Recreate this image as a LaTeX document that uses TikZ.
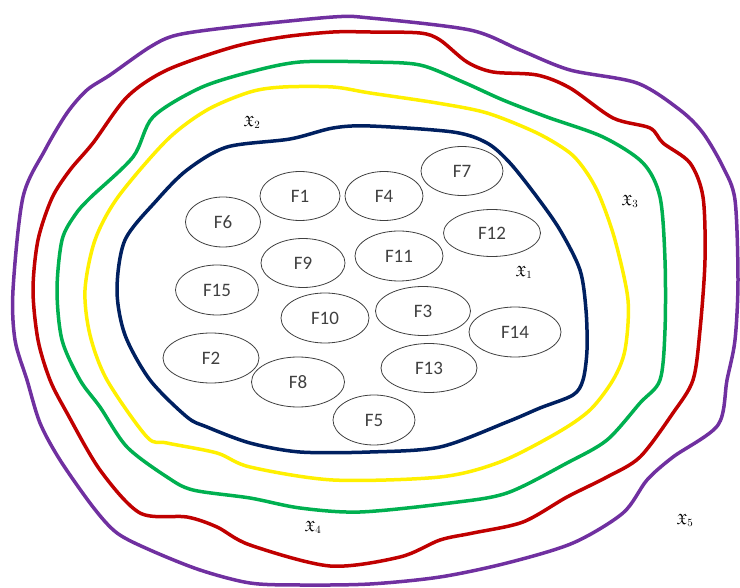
\documentclass[tikz,border=0pt]{standalone}
\usepackage{amssymb}
\usepackage{fontspec}
\setmainfont{Carlito}
\usetikzlibrary{shapes.geometric}
\definecolor{cpurple}{RGB}{112,48,160}
\definecolor{cred}{RGB}{192,0,0}
\definecolor{cgreen}{RGB}{0,176,80}
\definecolor{cyellow}{RGB}{255,240,0}
\definecolor{cnavy}{RGB}{0,32,96}
\newcommand{\glyphlab}[1]{\fontsize{15}{15}\selectfont$\mathfrak{X}_{#1}$}
\begin{document}
\begin{tikzpicture}[x=1pt,y=-1pt,
  loop/.style={line width=3.5pt, line join=round},
  fel/.style={ellipse, draw=black!75, line width=0.8pt, inner sep=0pt, text=black!75, font=\fontsize{19}{21}\selectfont},
  glab/.style={inner sep=0pt}]
\useasboundingbox (0,0) rectangle (740,588);
% purple
\draw[loop, cpurple] plot[smooth cycle, tension=0.5] coordinates {(13,290) (23,197) (45,150) (67,113) (87,90) (110,75) (150,47) (177,35) (233,27) (333,17) (370,18) (470,30) (520,50) (570,70) (637,83) (680,110) (703,133) (723,167) (735,200) (738,280) (735,340) (727,380) (718,425) (673,457) (647,480) (623,513) (573,543) (507,563) (440,577) (370,584) (300,585) (250,583) (200,570) (150,550) (117,533) (93,507) (60,460) (40,423) (27,380) (15,340)};
% red
\draw[loop, cred] plot[smooth cycle, tension=0.5] coordinates {(33,290) (38,240) (52,198) (70,170) (93,143) (127,97) (167,70) (233,47) (283,37) (333,32) (370,32) (420,33) (440,40) (467,62) (493,72) (537,75) (570,88) (613,118) (650,128) (663,143) (690,163) (703,197) (705,260) (700,330) (693,380) (673,413) (640,457) (607,477) (567,497) (523,522) (473,533) (440,540) (400,557) (330,566) (250,545) (217,527) (187,517) (140,513) (100,470) (67,413) (50,380) (38,340)};
% green
\draw[loop, cgreen] plot[smooth cycle, tension=0.5] coordinates {(57,290) (62,240) (75,215) (90,198) (133,157) (153,117) (200,88) (250,72) (300,62) (370,62) (420,65) (463,82) (503,100) (547,117) (603,137) (643,163) (660,197) (665,260) (665,330) (660,380) (640,403) (607,440) (567,463) (507,493) (450,503) (360,512) (300,508) (250,498) (193,490) (167,477) (127,447) (100,407) (80,380) (62,340)};
% yellow
\draw[loop, cyellow] plot[smooth cycle, tension=0.5] coordinates {(85,290) (95,240) (118,197) (167,140) (207,110) (250,92) (283,87) (333,87) (370,93) (437,103) (487,113) (537,133) (570,153) (587,173) (600,197) (615,240) (628,300) (625,350) (613,380) (590,410) (557,433) (500,462) (440,477) (333,480) (250,467) (217,453) (167,443) (147,437) (107,380) (90,335)};
% navy
\draw[loop, cnavy] plot[smooth cycle, tension=0.5] coordinates {(117,290) (125,240) (157,200) (187,170) (227,147) (290,139) (333,128) (370,126) (453,132) (487,143) (510,163) (537,197) (560,230) (580,270) (586,310) (587,350) (583,380) (573,395) (540,408) (507,422) (440,447) (370,452) (300,452) (250,443) (207,427) (187,417) (150,380) (125,335)};
% ellipses
\node[fel, minimum width=80pt, minimum height=49pt] (F1) at (300,196) {F1};
\node[fel, minimum width=78pt, minimum height=49pt] (F4) at (384,196) {F4};
\node[fel, minimum width=82pt, minimum height=49pt] (F7) at (462,171) {F7};
\node[fel, minimum width=75pt, minimum height=50pt] (F6) at (223,222) {F6};
\node[fel, minimum width=97pt, minimum height=47pt] (F12) at (492,233) {F12};
\node[fel, minimum width=84pt, minimum height=49pt] (F9) at (303,263) {F9};
\node[fel, minimum width=88pt, minimum height=50pt] (F11) at (399,256) {F11};
\node[fel, minimum width=83pt, minimum height=50pt] (F15) at (217,290) {F15};
\node[fel, minimum width=88pt, minimum height=50pt] (F10) at (325,318) {F10};
\node[fel, minimum width=95pt, minimum height=49pt] (F3) at (423,311) {F3};
\node[fel, minimum width=92pt, minimum height=50pt] (F14) at (515,332) {F14};
\node[fel, minimum width=96pt, minimum height=50pt] (F2) at (211,358) {F2};
\node[fel, minimum width=93pt, minimum height=50pt] (F8) at (298,382) {F8};
\node[fel, minimum width=96pt, minimum height=49pt] (F13) at (429,368) {F13};
\node[fel, minimum width=82pt, minimum height=50pt] (F5) at (374,420) {F5};
% labels
\node[glab] (g1) at (524,272) {\glyphlab{1}};
\node[glab] (g2) at (252,122) {\glyphlab{2}};
\node[glab] (g3) at (630,201) {\glyphlab{3}};
\node[glab] (g4) at (313,527) {\glyphlab{4}};
\node[glab] (g5) at (685,520) {\glyphlab{5}};
\end{tikzpicture}
\end{document}
